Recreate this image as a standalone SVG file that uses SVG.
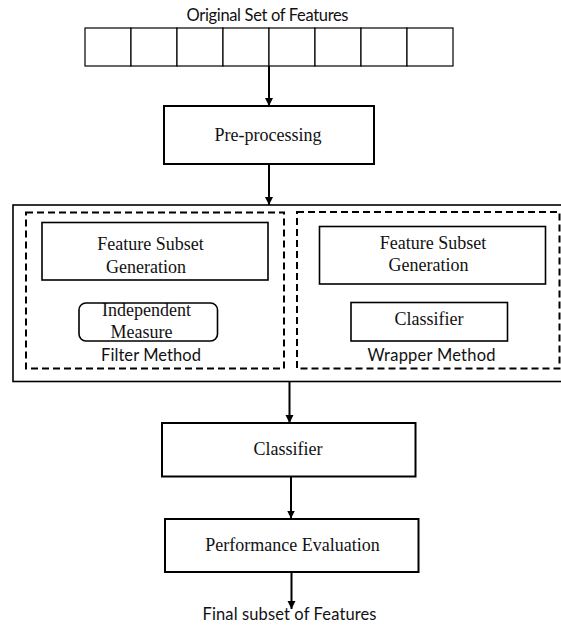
<svg xmlns="http://www.w3.org/2000/svg" width="561" height="628" viewBox="0 0 561 628">
  <defs>
    <marker id="arrow" viewBox="0 0 8 10" refX="8" refY="5" markerWidth="8" markerHeight="10" markerUnits="userSpaceOnUse" orient="auto">
      <path d="M0,1 L8,5 L0,9 Z" fill="#000"/>
    </marker>
    <style>
      .box { fill: #fff; stroke: #000; stroke-width: 2; }
      .inner { fill: #fff; stroke: #000; stroke-width: 1.6; }
      .cell { fill: #fff; stroke: #000; stroke-width: 1.2; }
      .dash { fill: none; stroke: #000; stroke-width: 2; stroke-dasharray: 7 4; }
      .outer { fill: #fff; stroke: #000; stroke-width: 1.6; }
      .serif { font-family: "Liberation Serif", "Times New Roman", serif; font-size: 18px; fill: #111; text-anchor: middle; }
      .sans { font-family: Lato, "Liberation Sans", Arial, sans-serif; font-size: 16.5px; fill: #111; text-anchor: middle; }
      .conn { stroke: #000; stroke-width: 2; fill: none; marker-end: url(#arrow); }
    </style>
  </defs>
  <rect width="561" height="628" fill="#fff"/>

  <!-- input feature vector -->
  <g id="features">
    <text class="sans" x="267.5" y="21" textLength="162" lengthAdjust="spacing">Original Set of Features</text>
    <rect class="cell" x="85" y="28" width="46" height="38"/>
    <rect class="cell" x="131" y="28" width="46" height="38"/>
    <rect class="cell" x="177" y="28" width="46" height="38"/>
    <rect class="cell" x="223" y="28" width="46" height="38"/>
    <rect class="cell" x="269" y="28" width="46" height="38"/>
    <rect class="cell" x="315" y="28" width="46" height="38"/>
    <rect class="cell" x="361" y="28" width="46" height="38"/>
    <rect class="cell" x="407" y="28" width="46" height="38"/>
  </g>

  <g id="preprocessing">
    <rect class="box" x="164" y="106" width="210" height="58"/>
    <text class="serif" x="268" y="141" font-size="17">Pre-processing</text>
  </g>

  <!-- feature selection block: filter and wrapper -->
  <g id="selection">
    <rect class="outer" x="13" y="205" width="560" height="176.5"/>
  </g>

  <g id="filter">
    <rect class="dash" x="26" y="212.5" width="258" height="156"/>
    <text class="sans" x="151" y="361" textLength="100" lengthAdjust="spacing">Filter Method</text>
  </g>
  <g id="filter-generation">
    <rect class="inner" x="42" y="222.5" width="226" height="57.5"/>
    <text class="serif" x="150.5" y="249.5">Feature Subset</text>
    <text class="serif" x="146" y="272.5">Generation</text>
  </g>
  <g id="independent-measure">
    <rect class="inner" x="79" y="303" width="138.5" height="38" rx="7" ry="7"/>
    <text class="serif" x="146.5" y="316">Independent</text>
    <text class="serif" x="141.5" y="337.5">Measure</text>
  </g>

  <g id="wrapper">
    <rect class="dash" x="297" y="212" width="262.5" height="156.5"/>
    <text class="sans" x="431.5" y="361" textLength="128" lengthAdjust="spacing">Wrapper Method</text>
  </g>
  <g id="wrapper-generation">
    <rect class="inner" x="319.5" y="226.5" width="226" height="57.5"/>
    <text class="serif" x="433" y="248.5">Feature Subset</text>
    <text class="serif" x="428.5" y="270.5">Generation</text>
  </g>
  <g id="wrapper-classifier">
    <rect class="inner" x="351" y="302.5" width="156.5" height="38.5"/>
    <text class="serif" x="429" y="324.5">Classifier</text>
  </g>

  <g id="classifier">
    <rect class="box" x="162" y="423" width="253.5" height="53.5"/>
    <text class="serif" x="288" y="454.5">Classifier</text>
  </g>

  <g id="evaluation">
    <rect class="box" x="165" y="519" width="253.5" height="53"/>
    <text class="serif" x="292.5" y="550.5">Performance Evaluation</text>
  </g>

  <g id="output">
    <text class="sans" x="289.5" y="620" textLength="174" lengthAdjust="spacing">Final subset of Features</text>
  </g>

  <g id="connectors">
    <line class="conn" x1="269" y1="66" x2="269" y2="106"/>
    <line class="conn" x1="269" y1="164" x2="269" y2="205"/>
    <line class="conn" x1="289.5" y1="382" x2="289.5" y2="423"/>
    <line class="conn" x1="291" y1="477" x2="291" y2="518.5"/>
    <line class="conn" x1="291.5" y1="573" x2="291.5" y2="609"/>
  </g>
</svg>
